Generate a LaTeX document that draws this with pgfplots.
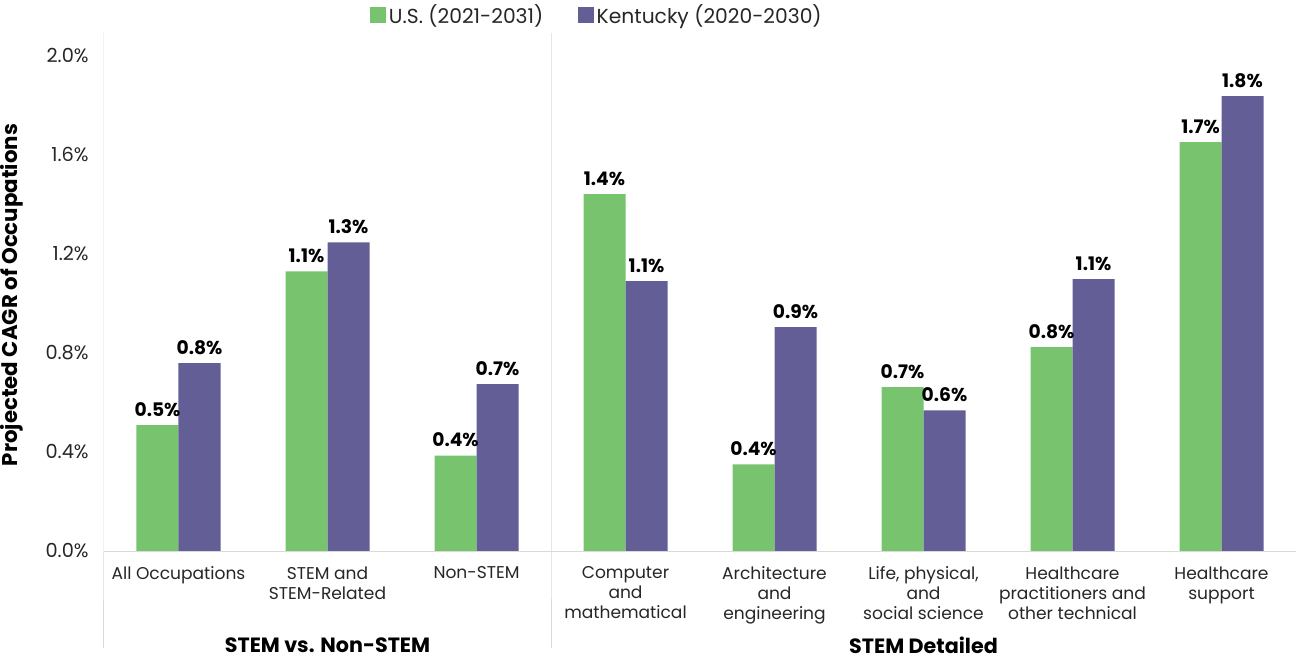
\documentclass[border=0pt]{standalone}
\usepackage{pgfplots}
\pgfplotsset{compat=1.18}
\usepackage{pgfplotstable}
\usepackage{fontspec}
\setmainfont{Poppins}
\definecolor{cgreen}{HTML}{77C36E}
\definecolor{cpurple}{HTML}{635E96}
\definecolor{cgrid}{HTML}{D9D9D9}
\definecolor{ctext}{HTML}{262626}

\pgfplotstableread{
x us ky usl kyl
0 0.508 0.758 0.5 0.8
1 1.128 1.245 1.1 1.3
2 0.385 0.673 0.4 0.7
3 1.440 1.089 1.4 1.1
4 0.350 0.903 0.4 0.9
5 0.661 0.567 0.7 0.6
6 0.823 1.097 0.8 1.1
7 1.650 1.835 1.7 1.8
}\data

\begin{document}
\begin{tikzpicture}
\begin{axis}[
  scale only axis, width=894pt, height=388.5pt,
  xmin=-0.5, xmax=7.5, ymin=0, ymax=2.09,
  axis line style={draw=none},
  major tick length=0pt,
  ybar=0pt, bar width=31.5pt,
  xtick={0,...,7},
  xticklabels={All Occupations,{STEM and\\STEM-Related},Non-STEM,{Computer\\and\\mathematical},{Architecture\\and\\engineering},{Life, physical,\\and\\social science},{Healthcare\\practitioners and\\other technical},{Healthcare\\support}},
  xticklabel style={align=center, font=\fontsize{12.8}{15}\selectfont, text=ctext, anchor=north, yshift=-8pt},
  ytick={0,0.4,0.8,1.2,1.6,2.0},
  yticklabels={0.0\%,0.4\%,0.8\%,1.2\%,1.6\%,2.0\%},
  yticklabel style={font=\fontsize{14.5}{16}\selectfont, text=ctext, xshift=-8pt},
  nodes near coords={\pgfplotspointmeta\%},
  point meta=explicit symbolic,
  nodes near coords style={font=\bfseries\fontsize{14}{16}\selectfont, text=black, anchor=south, yshift=3pt},
  legend style={at={(0.2232,1.0347)}, anchor=west, draw=none, fill=none, legend columns=2,
    font=\fontsize{15.2}{17}\selectfont, text=ctext,
    /tikz/every even column/.append style={column sep=24pt},
    inner sep=0pt, row sep=0pt},
  legend image code/.code={\fill[#1] (0pt,-6pt) rectangle (12pt,6pt);},
  clip=false,
]
\addplot[fill=cgreen, draw=none] table[x=x, y=us, meta=usl] {\data};
\addplot[fill=cpurple, draw=none] table[x=x, y=ky, meta=kyl] {\data};
\legend{U.S. (2021-2031),Kentucky (2020-2030)}
\draw[cgrid, line width=0.75pt] (rel axis cs:0,0) -- (rel axis cs:1,0);
\draw[cgrid, line width=0.75pt] (rel axis cs:0,1) -- (rel axis cs:0,0) -- ++(0pt,-72.75pt);
\draw[cgrid, line width=0.75pt] (axis cs:2.5,2.09) -- (axis cs:2.5,0) -- ++(0pt,-72.75pt);
\node[font=\bfseries\fontsize{15.5}{18}\selectfont, text=black] at ([yshift=-70.5pt]axis cs:1,0) {STEM vs. Non-STEM};
\node[font=\bfseries\fontsize{15.5}{18}\selectfont, text=black] at ([yshift=-70.5pt]axis cs:5,0) {STEM Detailed};
\node[font=\bfseries\fontsize{16}{18}\selectfont, text=black, rotate=90] at ([xshift=-69pt]rel axis cs:0,0.494) {Projected CAGR of Occupations};
\coordinate (bl) at (rel axis cs:0,0);
\coordinate (tr) at (rel axis cs:1,1);
\end{axis}
\pgfresetboundingbox
\path ([xshift=-78pt,yshift=-81.75pt]bl) rectangle ([yshift=24.75pt]tr);
\end{tikzpicture}
\end{document}
